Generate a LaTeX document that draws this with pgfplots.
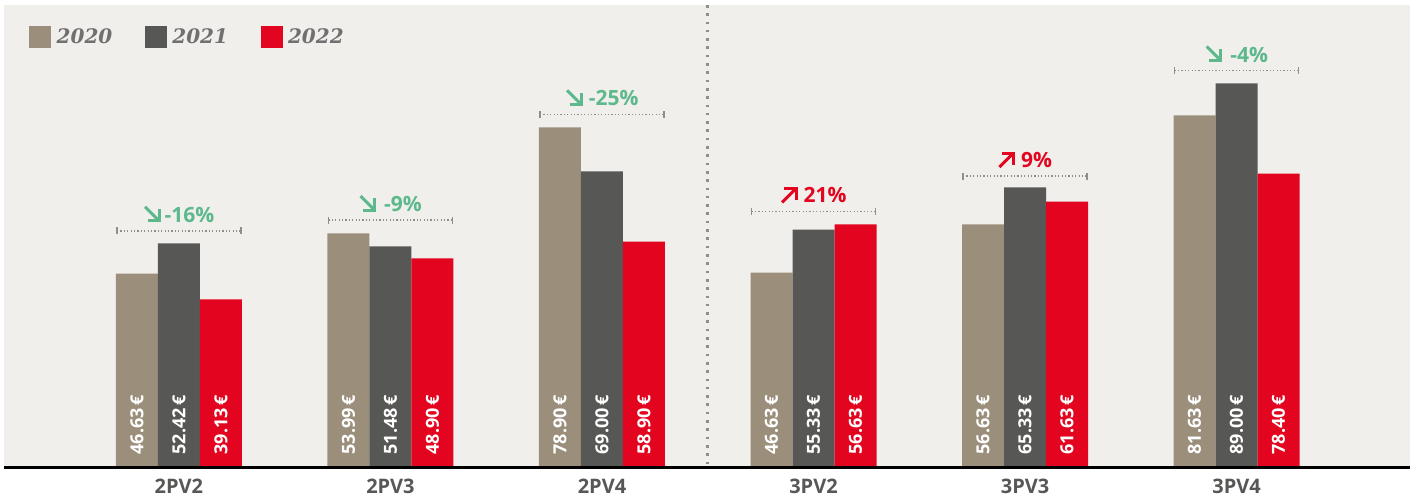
\documentclass[border=0pt]{standalone}
\usepackage{pgfplots}
\pgfplotsset{compat=1.18}
\usepackage{fontspec}
\setmainfont{Open Sans}
\newfontfamily\legfont{DejaVu Serif}
\definecolor{cA}{HTML}{9B8F7C}
\definecolor{cB}{HTML}{575756}
\definecolor{cC}{HTML}{E30520}
\definecolor{bgc}{HTML}{F0EFEB}
\definecolor{grn}{HTML}{5DB98C}
\definecolor{tickc}{HTML}{575756}
\definecolor{legtxt}{HTML}{707070}
\definecolor{brk}{HTML}{8E8E8E}

\newcommand\arrdown[1]{\tikz[baseline=0pt,x=1pt,y=1pt]{\draw[#1,line width=3pt] (1,15.6)--(14.8,1.8); \draw[#1,line width=3pt,line join=miter] (3.5,1.5)--(15.2,1.5)--(15.2,13.2);}}
\newcommand\arrup[1]{\tikz[baseline=0pt,x=1pt,y=1pt]{\draw[#1,line width=3pt] (1,0.5)--(14.8,14.3); \draw[#1,line width=3pt,line join=miter] (3.5,14.6)--(15.2,14.6)--(15.2,2.9);}}

\newcommand\bracket[2]{%
  \draw[brk, line width=1.3pt, dash pattern=on 1.2pt off 2.2pt] (axis cs:#1-0.293,#2) -- (axis cs:#1+0.293,#2);
  \draw[brk, line width=1.3pt] ([yshift=-3.5pt]axis cs:#1-0.293,#2) -- ([yshift=3.5pt]axis cs:#1-0.293,#2);
  \draw[brk, line width=1.3pt] ([yshift=-3.5pt]axis cs:#1+0.293,#2) -- ([yshift=3.5pt]axis cs:#1+0.293,#2);
}

\begin{document}
\begin{tikzpicture}
\begin{axis}[
  name=ax,
  width=1406pt, height=462.5pt, scale only axis,
  xmin=-0.827, xmax=5.82, ymin=0, ymax=107.3,
  clip=false,
  axis background/.style={fill=bgc},
  axis line style={draw=none},
  xtick={0,1,2,3,4,5},
  xticklabels={2PV2,2PV3,2PV4,3PV2,3PV3,3PV4},
  ytick=\empty,
  major tick length=0pt,
  xticklabel style={anchor=center, yshift=-19pt, text=tickc, font=\fontsize{20}{24}\selectfont\bfseries},
  legend columns=-1,
  legend style={at={(rel axis cs:0,1)}, anchor=north west, xshift=25pt, yshift=-18pt,
    draw=none, fill=none, inner sep=0pt,
    nodes={inner sep=5.5pt, text=legtxt},
    font=\legfont\bfseries\itshape\fontsize{20}{24}\selectfont,
    /tikz/every even column/.append style={column sep=27pt}},
  legend image code/.code={\fill[#1] (0pt,-11pt) rectangle (22pt,11pt);},
]
\addplot[ybar, bar width=42pt, bar shift=-42pt, draw=none, fill=cA] coordinates {(0,45.0) (1,54.3) (2,78.9) (3,45.2) (4,56.4) (5,81.7)};
\addlegendentry{2020}
\addplot[ybar, bar width=42pt, bar shift=0pt, draw=none, fill=cB] coordinates {(0,52.0) (1,51.3) (2,68.7) (3,55.2) (4,65.0) (5,89.1)};
\addlegendentry{2021}
\addplot[ybar, bar width=42pt, bar shift=42pt, draw=none, fill=cC] coordinates {(0,39.0) (1,48.5) (2,52.4) (3,56.4) (4,61.7) (5,68.2)};
\addlegendentry{2022}

\pgfplotsset{lab/.style={forget plot, only marks, mark=none, nodes near coords, point meta=explicit symbolic,
  every node near coord/.append style={rotate=90, anchor=west, inner sep=0pt, text=white, font=\fontsize{18}{21}\selectfont\bfseries}}}
\addplot[lab] coordinates {(-0.1986,3) [46.63\,€] (0.8014,3) [53.99\,€] (1.8014,3) [78.90\,€] (2.8014,3) [46.63\,€] (3.8014,3) [56.63\,€] (4.8014,3) [81.63\,€]};
\addplot[lab] coordinates {(0,3) [52.42\,€] (1,3) [51.48\,€] (2,3) [69.00\,€] (3,3) [55.33\,€] (4,3) [65.33\,€] (5,3) [89.00\,€]};
\addplot[lab] coordinates {(0.1986,3) [39.13\,€] (1.1986,3) [48.90\,€] (2.1986,3) [58.90\,€] (3.1986,3) [56.63\,€] (4.1986,3) [61.63\,€] (5.1986,3) [78.40\,€]};

% divider
\draw[brk, line width=2.6pt, dash pattern=on 2.6pt off 5.7pt] (axis cs:2.5,107.3) -- (axis cs:2.5,0);
% baseline
\draw[black, line width=2.6pt] (rel axis cs:0,0) -- (rel axis cs:1,0);

% change annotations
\bracket{0}{54.9}
\bracket{1}{57.4}
\bracket{2}{81.9}
\bracket{3}{59.4}
\bracket{4}{67.6}
\bracket{5}{92.1}
\node[anchor=base, yshift=8.5pt, text=grn, font=\fontsize{21}{25}\selectfont\bfseries] at (axis cs:0,54.9) {\arrdown{grn}\hspace{4pt}-16\%};
\node[anchor=base, yshift=8.5pt, text=grn, font=\fontsize{21}{25}\selectfont\bfseries] at (axis cs:1,57.4) {\arrdown{grn}\hspace{8pt}-9\%};
\node[anchor=base, yshift=8.5pt, text=grn, font=\fontsize{21}{25}\selectfont\bfseries] at (axis cs:2,81.9) {\arrdown{grn}\hspace{6pt}-25\%};
\node[anchor=base, yshift=8.5pt, text=cC, font=\fontsize{21}{25}\selectfont\bfseries] at (axis cs:3,59.4) {\arrup{cC}\hspace{6pt}21\%};
\node[anchor=base, yshift=8.5pt, text=cC, font=\fontsize{21}{25}\selectfont\bfseries] at (axis cs:4,67.6) {\arrup{cC}\hspace{6pt}9\%};
\node[anchor=base, yshift=8.5pt, text=grn, font=\fontsize{21}{25}\selectfont\bfseries] at (axis cs:5,92.1) {\arrdown{grn}\hspace{8pt}-4\%};
\end{axis}
\pgfresetboundingbox
\path ([shift={(-4pt,-34.5pt)}]ax.south west) rectangle ([shift={(5pt,5pt)}]ax.north east);
\end{tikzpicture}
\end{document}
